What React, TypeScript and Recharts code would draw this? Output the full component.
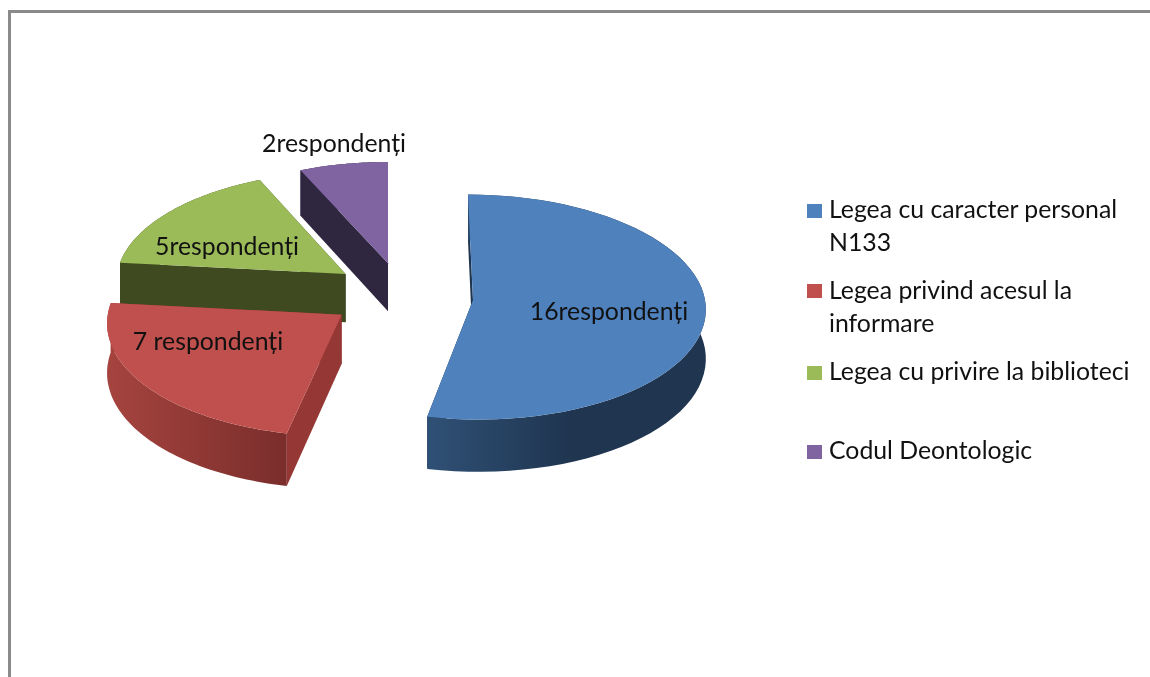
import React from 'react'
import { PieChart, Pie, Legend } from 'recharts'

const W = 1150
const H = 677
const FONT = 'Lato, sans-serif'

const sliceNames = ['Legea cu caracter personal N133', 'Legea privind acesul la informare', 'Legea cu privire la biblioteci', 'Codul Deontologic']
const sliceValues = [16, 7, 5, 2]
const sliceLabels = ['16respondenți', '7 respondenți', '5respondenți', '2respondenți']
const legendLines = [['Legea cu caracter personal', 'N133'], ['Legea privind acesul la', 'informare'], ['Legea cu privire la biblioteci'], ['Codul Deontologic']]

const topColors = ['#4f81bd', '#c0504d', '#9bbb59', '#8064a2']
const wallColors = ['#1f3550', '#953735', '#3f4a20', '#2f2640']
const rimFills = ['url(#rimBlue)', 'url(#rimRed)', '#3f4a20', '#2f2640']

// explode offset of each slice: px sideways, radius units front/back
const explodeX = [0, -131, -128, -85]
const explodeZ = [0, 0.13, -0.235, -0.335]

// where each label sits
const labelX = [609, 208, 227, 334]
const labelY = [320, 350, 255, 152]

const legendMarkY = [204, 284, 366, 445]
const legendBaselines = [[218, 251], [299, 332], [380], [459]]

// fake 3D view
const CX = 473
const CY = 300
const RADIUS = 232
const SQUASH = 0.483
const VANISH_X = 388
const VIEW_DIST = 16
const DEPTH = 49

// drawn back to front, red has to sit over the green wall
const pieData = sliceNames
  .map((name, i) => ({ name, value: sliceValues[i], idx: i }))
  .reverse()

function project(x: number, z: number, drop = 0) {
  const s = VIEW_DIST / (VIEW_DIST - z)
  return [VANISH_X + (x - VANISH_X) * s, CY + (RADIUS * SQUASH * z + drop) * s]
}

function poly(pts: number[][]) {
  return 'M' + pts.map((p) => `${p[0].toFixed(1)},${p[1].toFixed(1)}`).join('L') + 'Z'
}

function Slice3D(props: any) {
  const { startAngle, endAngle, outerRadius, cx } = props
  const idx = props.idx ?? props.payload?.idx
  const ax = cx + explodeX[idx]
  const az = explodeZ[idx]

  const arc = (drop: number) => {
    const pts: number[][] = []
    const steps = 60
    for (let i = 0; i <= steps; i++) {
      const a = ((startAngle + ((endAngle - startAngle) * i) / steps) * Math.PI) / 180
      pts.push(project(ax + outerRadius * Math.cos(a), az - Math.sin(a), drop))
    }
    return pts
  }

  const topArc = arc(0)
  const lowArc = arc(DEPTH)
  const apexTop = project(ax, az)
  const apexLow = project(ax, az, DEPTH)
  const first = topArc.length - 1

  return (
    <g>
      <path d={poly([topArc[0], apexTop, apexLow, lowArc[0]])} fill={wallColors[idx]} />
      <path d={poly([topArc[first], apexTop, apexLow, lowArc[first]])} fill={wallColors[idx]} />
      <path d={poly([...topArc, ...lowArc.slice().reverse()])} fill={rimFills[idx]} />
      <path d={poly([apexTop, ...topArc])} fill={topColors[idx]} />
    </g>
  )
}

function renderLabel(props: any) {
  const idx = props.idx ?? props.payload?.idx
  return (
    <text x={labelX[idx]} y={labelY[idx]} textAnchor="middle" fontFamily={FONT} fontSize={24.8} fill="#111">
      {sliceLabels[idx]}
    </text>
  )
}

function renderLegend() {
  return (
    <svg width={W} height={H} style={{ position: 'absolute', left: 0, top: 0 }}>
      {legendLines.map((lines, i) => (
        <g key={i}>
          <rect x={807} y={legendMarkY[i]} width={15} height={14} fill={topColors[i]} />
          {lines.map((line, j) => (
            <text key={j} x={829} y={legendBaselines[i][j]} fontFamily={FONT} fontSize={24.8} fill="#111">
              {line}
            </text>
          ))}
        </g>
      ))}
    </svg>
  )
}

export default function App() {
  return (
    <div style={{ position: 'absolute', left: 0, top: 0, width: W, height: H, background: '#fff', overflow: 'hidden', filter: 'blur(0.5px)' }}>
      <div style={{ position: 'absolute', left: 8, top: 10, right: 0, bottom: 0, borderLeft: '3px solid #8a8a8a', borderTop: '3px solid #8a8a8a' }} />
      <PieChart width={W} height={H} margin={{ top: 0, right: 0, bottom: 0, left: 0 }} style={{ position: 'absolute', left: 0, top: 0 }}>
        <defs>
          <linearGradient id="rimBlue" gradientUnits="userSpaceOnUse" x1={430} y1={0} x2={570} y2={0}>
            <stop offset="0" stopColor="#2f5075" />
            <stop offset="1" stopColor="#1f3550" />
          </linearGradient>
          <linearGradient id="rimRed" gradientUnits="userSpaceOnUse" x1={106} y1={0} x2={282} y2={0}>
            <stop offset="0" stopColor="#a6443f" />
            <stop offset="1" stopColor="#7b2e2c" />
          </linearGradient>
        </defs>
        <Pie
          data={pieData}
          dataKey="value"
          nameKey="name"
          cx={CX}
          cy={CY}
          outerRadius={RADIUS}
          startAngle={90}
          endAngle={450}
          stroke="none"
          shape={Slice3D}
          label={renderLabel}
          labelLine={false}
          isAnimationActive={false}
        />
        <Legend content={renderLegend} wrapperStyle={{ position: 'absolute', left: 0, top: 0, width: W, height: H }} />
      </PieChart>
    </div>
  )
}
